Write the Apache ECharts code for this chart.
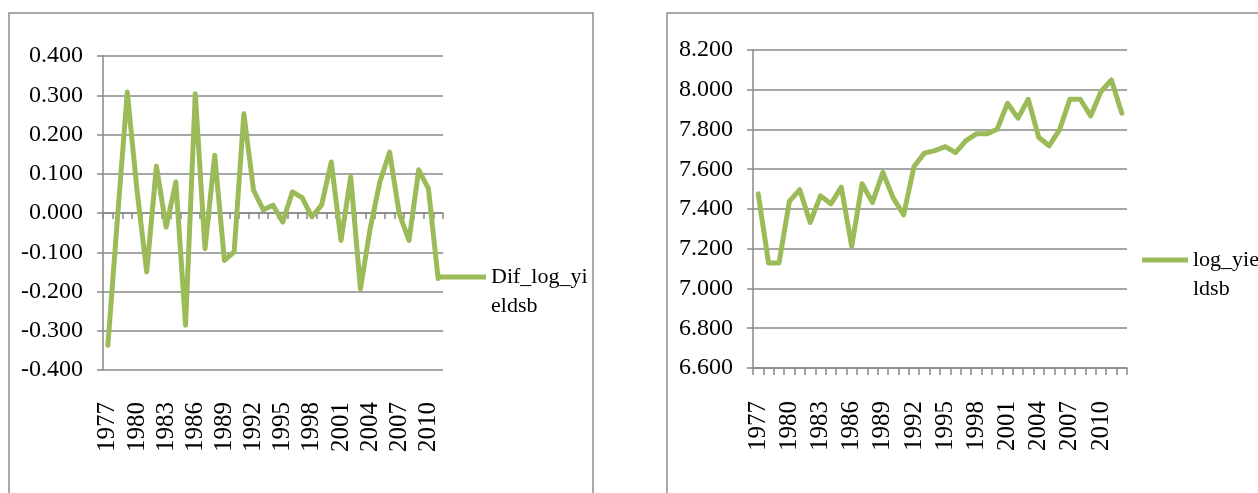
<!DOCTYPE html>
<html>
<head>
<meta charset="utf-8">
<script src="https://cdn.jsdelivr.net/npm/echarts@6/dist/echarts.min.js"></script>
<style>
html,body{margin:0;padding:0;background:#fff;}
#chart{width:1258px;height:493px;}
</style>
</head>
<body>
<div id="chart"></div>
<script>
// ---- Data ----
var difYears = ['1977','1978','1979','1980','1981','1982','1983','1984','1985','1986','1987','1988','1989','1990','1991','1992','1993','1994','1995','1996','1997','1998','1999','2000','2001','2002','2003','2004','2005','2006','2007','2008','2009','2010','2011'];
var difValues = [-0.337, -0.010, 0.308, 0.058, -0.150, 0.119, -0.036, 0.079, -0.286, 0.304, -0.091, 0.147, -0.121, -0.099, 0.253, 0.058, 0.008, 0.020, -0.023, 0.054, 0.039, -0.010, 0.020, 0.130, -0.070, 0.092, -0.193, -0.040, 0.079, 0.155, -0.002, -0.070, 0.110, 0.062, -0.167];
var logYears = ['1977','1978','1979','1980','1981','1982','1983','1984','1985','1986','1987','1988','1989','1990','1991','1992','1993','1994','1995','1996','1997','1998','1999','2000','2001','2002','2003','2004','2005','2006','2007','2008','2009','2010','2011','2012'];
var logValues = [7.476, 7.128, 7.128, 7.438, 7.497, 7.332, 7.466, 7.426, 7.510, 7.212, 7.527, 7.433, 7.584, 7.455, 7.371, 7.614, 7.681, 7.694, 7.714, 7.684, 7.744, 7.778, 7.778, 7.801, 7.932, 7.857, 7.952, 7.761, 7.718, 7.798, 7.952, 7.952, 7.868, 7.991, 8.049, 7.882];
var difName = 'Dif_log_yieldsb';
var logName = 'log_yieldsb';
var difLegendLines = ['Dif_log_yi', 'eldsb'];
var logLegendLines = ['log_yie', 'ldsb'];

// ---- Styles ----
var FONT = 'Liberation Serif';
var GRAY = '#888888';
var GREEN = '#9BBB59';
var LH = 29;

var chart = echarts.init(document.getElementById('chart'), null, {renderer:'canvas'});

function yAxisCommon(min, max, interval) {
  return {
    type: 'value', min: min, max: max, interval: interval,
    axisLine: {show: true, lineStyle: {color: GRAY, width: 1.5}},
    axisTick: {show: true, length: 6, lineStyle: {color: GRAY, width: 1.5}},
    splitLine: {show: true, lineStyle: {color: GRAY, width: 1.5}},
    axisLabel: {color: '#000', fontFamily: FONT, fontSize: 24, margin: 20,
      formatter: function (v) { return v.toFixed(3); }}
  };
}

function legendCfg(name, lines, left, iconCenterY, width) {
  // blank first line so the icon lines up with the first visible text line
  return {
    data: [name], left: left, top: iconCenterY - 1.5 * LH, padding: 0,
    icon: 'rect', itemWidth: width, itemHeight: 5,
    itemStyle: {color: GREEN},
    formatter: function () { return ' \n' + lines.join('\n'); },
    textStyle: {fontFamily: FONT, fontSize: 22, color: '#000', lineHeight: LH}
  };
}

var option = {
  backgroundColor: '#fff',
  animation: false,
  graphic: [
    {type: 'rect', shape: {x: 9, y: 13, width: 584, height: 600}, style: {fill: 'none', stroke: '#8d8d8d', lineWidth: 1.5}, silent: true},
    {type: 'rect', shape: {x: 667, y: 13, width: 700, height: 600}, style: {fill: 'none', stroke: '#8d8d8d', lineWidth: 1.5}, silent: true}
  ],
  grid: [
    {left: 103, top: 56, width: 340, height: 314},
    {left: 753, top: 50, width: 374, height: 318}
  ],
  legend: [
    legendCfg(difName, difLegendLines, 437, 277, 49),
    legendCfg(logName, logLegendLines, 1142, 260, 46)
  ],
  xAxis: [
    { // left chart labels at bottom
      type: 'category', gridIndex: 0, data: difYears, position: 'bottom',
      axisLine: {show: false, onZero: false},
      axisTick: {show: false},
      axisLabel: {rotate: 90, interval: 2, margin: 32, color: '#000', fontFamily: FONT, fontSize: 25}
    },
    { // left chart zero line with ticks
      type: 'category', gridIndex: 0, data: difYears, position: 'top',
      axisLine: {show: true, onZero: true, lineStyle: {color: GRAY, width: 1.5}},
      axisTick: {show: true, inside: true, interval: 0, length: 6, lineStyle: {color: GRAY, width: 1.5}},
      axisLabel: {show: false}
    },
    { // right chart
      type: 'category', gridIndex: 1, data: logYears, position: 'bottom',
      axisLine: {show: true, onZero: false, lineStyle: {color: GRAY, width: 1.5}},
      axisTick: {show: true, interval: 0, length: 7, lineStyle: {color: GRAY, width: 1.5}},
      axisLabel: {rotate: 90, interval: 2, margin: 33, color: '#000', fontFamily: FONT, fontSize: 25}
    }
  ],
  yAxis: [
    Object.assign(yAxisCommon(-0.4, 0.4, 0.1), {gridIndex: 0}),
    Object.assign(yAxisCommon(6.6, 8.2, 0.2), {gridIndex: 1})
  ],
  series: [
    {
      name: difName, type: 'line', xAxisIndex: 0, yAxisIndex: 0, data: difValues,
      symbol: 'none', lineStyle: {color: GREEN, width: 5, cap: 'round', join: 'round'},
      itemStyle: {color: GREEN}
    },
    {
      name: logName, type: 'line', xAxisIndex: 2, yAxisIndex: 1, data: logValues,
      symbol: 'none', lineStyle: {color: GREEN, width: 5, cap: 'round', join: 'round'},
      itemStyle: {color: GREEN}
    }
  ]
};
chart.setOption(option);
</script>
</body>
</html>
